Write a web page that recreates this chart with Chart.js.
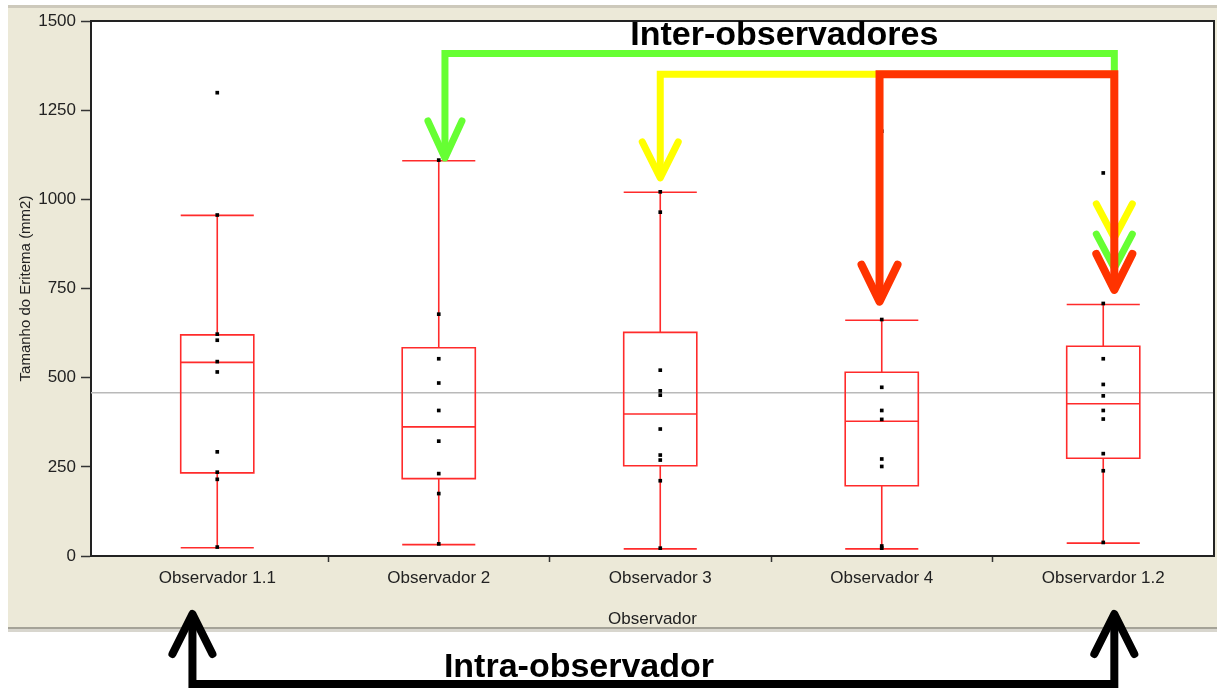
<!DOCTYPE html>
<html>
<head>
<meta charset="utf-8">
<title>Tamanho do Eritema por Observador</title>
<script src="https://cdn.jsdelivr.net/npm/chart.js@4.4.0/dist/chart.umd.min.js"></script>
<style>
  html, body { margin: 0; padding: 0; background: #fff; }
  #chart { display: block; }
</style>
</head>
<body>
<canvas id="chart" width="1217" height="688"></canvas>
<script>
const categories = ['Observador 1.1', 'Observador 2', 'Observador 3', 'Observador 4', 'Observardor 1.2'];

// box statistics (mm2)
const whiskerLow = [23, 32, 20, 20, 36];
const quartile1 = [233, 217, 253, 197, 274];
const medians = [543, 362, 398, 378, 427];
const quartile3 = [620, 584, 627, 515, 588];
const whiskerHigh = [955, 1108, 1020, 661, 705];

// individual measurements for each observer
const obs11 = [1299, 956, 622, 605, 545, 516, 292, 235, 215, 25];
const obs2 = [1110, 678, 553, 485, 408, 322, 231, 175, 34];
const obs3 = [1021, 964, 521, 463, 451, 356, 283, 269, 211, 22];
const obs4 = [1191, 663, 473, 408, 383, 272, 251, 28, 22];
const obs12 = [1074, 708, 553, 481, 449, 408, 384, 287, 239, 38];

const grandMean = 458;
const yTicks = [0, 250, 500, 750, 1000, 1250, 1500];
const xTicks = [0, 0.5, 1, 1.5, 2, 2.5, 3, 3.5, 4];

const points = [obs11, obs2, obs3, obs4, obs12]
    .flatMap((values, i) => values.map(v => ({ x: i, y: v })));

const FONT = '"Liberation Sans", Arial, sans-serif';
Chart.defaults.font.family = FONT;

const RED = '#ff2b2b';
const BEIGE = '#ece9d8';

// window background, beige panel and white plot area
const panelPlugin = {
    id: 'panel',
    beforeDraw(chart) {
        const { ctx, chartArea: a, width, height } = chart;
        ctx.save();
        ctx.fillStyle = '#fff';
        ctx.fillRect(0, 0, width, height);
        ctx.fillStyle = '#cdc9bb';
        ctx.fillRect(8, 5, width - 8, 3);
        ctx.fillStyle = BEIGE;
        ctx.fillRect(8, 8, width - 8, 619);
        ctx.fillStyle = '#a5a398';
        ctx.fillRect(8, 627, width - 8, 2);
        ctx.fillStyle = '#d8d6ce';
        ctx.fillRect(8, 629, width - 8, 3);
        ctx.fillStyle = '#fff';
        ctx.fillRect(a.left, a.top, a.right - a.left, a.bottom - a.top);
        ctx.restore();
    }
};

// mean line, boxes and whiskers drawn through the scales
const boxPlugin = {
    id: 'boxes',
    beforeDatasetsDraw(chart) {
        const { ctx, chartArea: a, scales: { x, y } } = chart;
        ctx.save();

        ctx.strokeStyle = '#b9b9b9';
        ctx.lineWidth = 1.5;
        ctx.beginPath();
        ctx.moveTo(a.left, y.getPixelForValue(grandMean));
        ctx.lineTo(a.right, y.getPixelForValue(grandMean));
        ctx.stroke();

        const half = (x.getPixelForValue(0.33) - x.getPixelForValue(0)) / 2;
        ctx.strokeStyle = RED;
        ctx.lineWidth = 1.6;
        categories.forEach((c, i) => {
            const cx = x.getPixelForValue(i);
            const lo = y.getPixelForValue(whiskerLow[i]);
            const q1 = y.getPixelForValue(quartile1[i]);
            const md = y.getPixelForValue(medians[i]);
            const q3 = y.getPixelForValue(quartile3[i]);
            const hi = y.getPixelForValue(whiskerHigh[i]);
            ctx.beginPath();
            ctx.rect(cx - half, q3, half * 2, q1 - q3);
            ctx.moveTo(cx - half, md); ctx.lineTo(cx + half, md);
            ctx.moveTo(cx, q3); ctx.lineTo(cx, hi);
            ctx.moveTo(cx - half, hi); ctx.lineTo(cx + half, hi);
            ctx.moveTo(cx, q1); ctx.lineTo(cx, lo);
            ctx.moveTo(cx - half, lo); ctx.lineTo(cx + half, lo);
            ctx.stroke();
        });

        // top and right edges of the frame
        ctx.strokeStyle = '#222';
        ctx.lineWidth = 2;
        ctx.beginPath();
        ctx.moveTo(a.left, a.top);
        ctx.lineTo(a.right, a.top);
        ctx.lineTo(a.right, a.bottom);
        ctx.stroke();
        ctx.restore();
    }
};

function arrowHead(ctx, x, tipY, dir, color, w, armW, armH) {
    ctx.strokeStyle = color;
    ctx.lineWidth = w;
    ctx.lineCap = 'round';
    ctx.lineJoin = 'round';
    ctx.beginPath();
    ctx.moveTo(x - armW, tipY - dir * armH);
    ctx.lineTo(x, tipY);
    ctx.lineTo(x + armW, tipY - dir * armH);
    ctx.stroke();
}

function path(ctx, pts, color, w) {
    ctx.strokeStyle = color;
    ctx.lineWidth = w;
    ctx.lineCap = 'butt';
    ctx.lineJoin = 'miter';
    ctx.beginPath();
    pts.forEach((p, i) => i ? ctx.lineTo(p[0], p[1]) : ctx.moveTo(p[0], p[1]));
    ctx.stroke();
}

// hand-drawn comparison arrows laid over the chart
const annotationPlugin = {
    id: 'arrows',
    afterDraw(chart) {
        const { ctx, chartArea: a, scales: { x, y } } = chart;
        const px = v => x.getPixelForValue(v);
        const py = v => y.getPixelForValue(v);
        const green = '#66ff33', yellow = '#ffff00', red = '#ff3300';
        const xRight = px(4.05);
        ctx.save();

        path(ctx, [[px(1.028), py(1116) - 4], [px(1.028), py(1409)], [xRight, py(1409)], [xRight, py(807) - 4]], green, 7);
        path(ctx, [[px(2.0), py(1060) - 4], [px(2.0), py(1351)], [xRight, py(1351)], [xRight, py(892) - 4]], yellow, 7);
        arrowHead(ctx, px(1.028), py(1116), 1, green, 7, 17, 37);
        arrowHead(ctx, px(2.0), py(1060), 1, yellow, 7, 18, 36);
        arrowHead(ctx, xRight, py(892), 1, yellow, 7, 18, 34);
        arrowHead(ctx, xRight, py(807), 1, green, 7, 18, 34);

        path(ctx, [[px(2.99), py(713) - 4], [px(2.99), py(1351)], [xRight, py(1351)], [xRight, py(746) - 4]], red, 8);
        arrowHead(ctx, px(2.99), py(713), 1, red, 8, 18, 37);
        arrowHead(ctx, xRight, py(746), 1, red, 8, 18, 36);

        // intra-observer bracket below the axis
        const xl = px(-0.112);
        const tipY = a.bottom + 58, baseY = a.bottom + 128;
        path(ctx, [[xl, tipY + 4], [xl, baseY], [xRight, baseY], [xRight, tipY + 4]], '#000', 8);
        arrowHead(ctx, xl, tipY, -1, '#000', 8, 20, 40);
        arrowHead(ctx, xRight, tipY, -1, '#000', 8, 20, 40);

        ctx.fillStyle = '#000';
        ctx.font = 'bold 34px ' + FONT;
        ctx.textAlign = 'center';
        ctx.textBaseline = 'alphabetic';
        ctx.fillText('Inter-observadores', px(2.56), a.top + 24);
        ctx.fillText('Intra-observador', px(1.633), a.bottom + 121);
        ctx.restore();
    }
};

new Chart(document.getElementById('chart'), {
    type: 'scatter',
    data: {
        datasets: [{
            data: points,
            pointStyle: 'rect',
            pointRadius: 2.6,
            pointHoverRadius: 2.6,
            backgroundColor: '#000',
            borderWidth: 0
        }]
    },
    options: {
        responsive: false,
        animation: false,
        devicePixelRatio: 1,
        layout: { padding: { left: 8, top: 21, right: 3, bottom: 60 } },
        plugins: {
            legend: { display: false },
            tooltip: { enabled: false }
        },
        scales: {
            x: {
                type: 'linear',
                min: -0.57,
                max: 4.5,
                afterBuildTicks: scale => { scale.ticks = xTicks.map(v => ({ value: v })); },
                afterFit: scale => { scale.height = 72; },
                ticks: {
                    autoSkip: false,
                    maxRotation: 0,
                    padding: 6,
                    color: '#222',
                    font: { size: 17 },
                    callback: v => Number.isInteger(v) ? categories[v] : ''
                },
                grid: {
                    drawOnChartArea: false,
                    tickLength: 6,
                    tickWidth: 1.5,
                    tickColor: c => Number.isInteger(c.tick.value) ? 'rgba(0,0,0,0)' : '#333'
                },
                border: { color: '#222', width: 2 },
                title: {
                    display: true,
                    text: 'Observador',
                    color: '#222',
                    font: { size: 17, lineHeight: 1 },
                    padding: { top: 0, bottom: 0 }
                }
            },
            y: {
                min: 0,
                max: 1500,
                afterBuildTicks: scale => { scale.ticks = yTicks.map(v => ({ value: v })); },
                afterFit: scale => { scale.width = 83; },
                ticks: {
                    padding: 5,
                    color: '#222',
                    font: { size: 17 },
                    callback: v => String(v)
                },
                grid: {
                    drawOnChartArea: false,
                    tickLength: 10,
                    tickWidth: 1.5,
                    tickColor: '#333'
                },
                border: { color: '#222', width: 2 },
                title: {
                    display: true,
                    text: 'Tamanho do Eritema (mm2)',
                    color: '#222',
                    font: { size: 15, lineHeight: 1.2 },
                    padding: { top: 9, bottom: 0 }
                }
            }
        }
    },
    plugins: [panelPlugin, boxPlugin, annotationPlugin]
});
</script>
</body>
</html>
